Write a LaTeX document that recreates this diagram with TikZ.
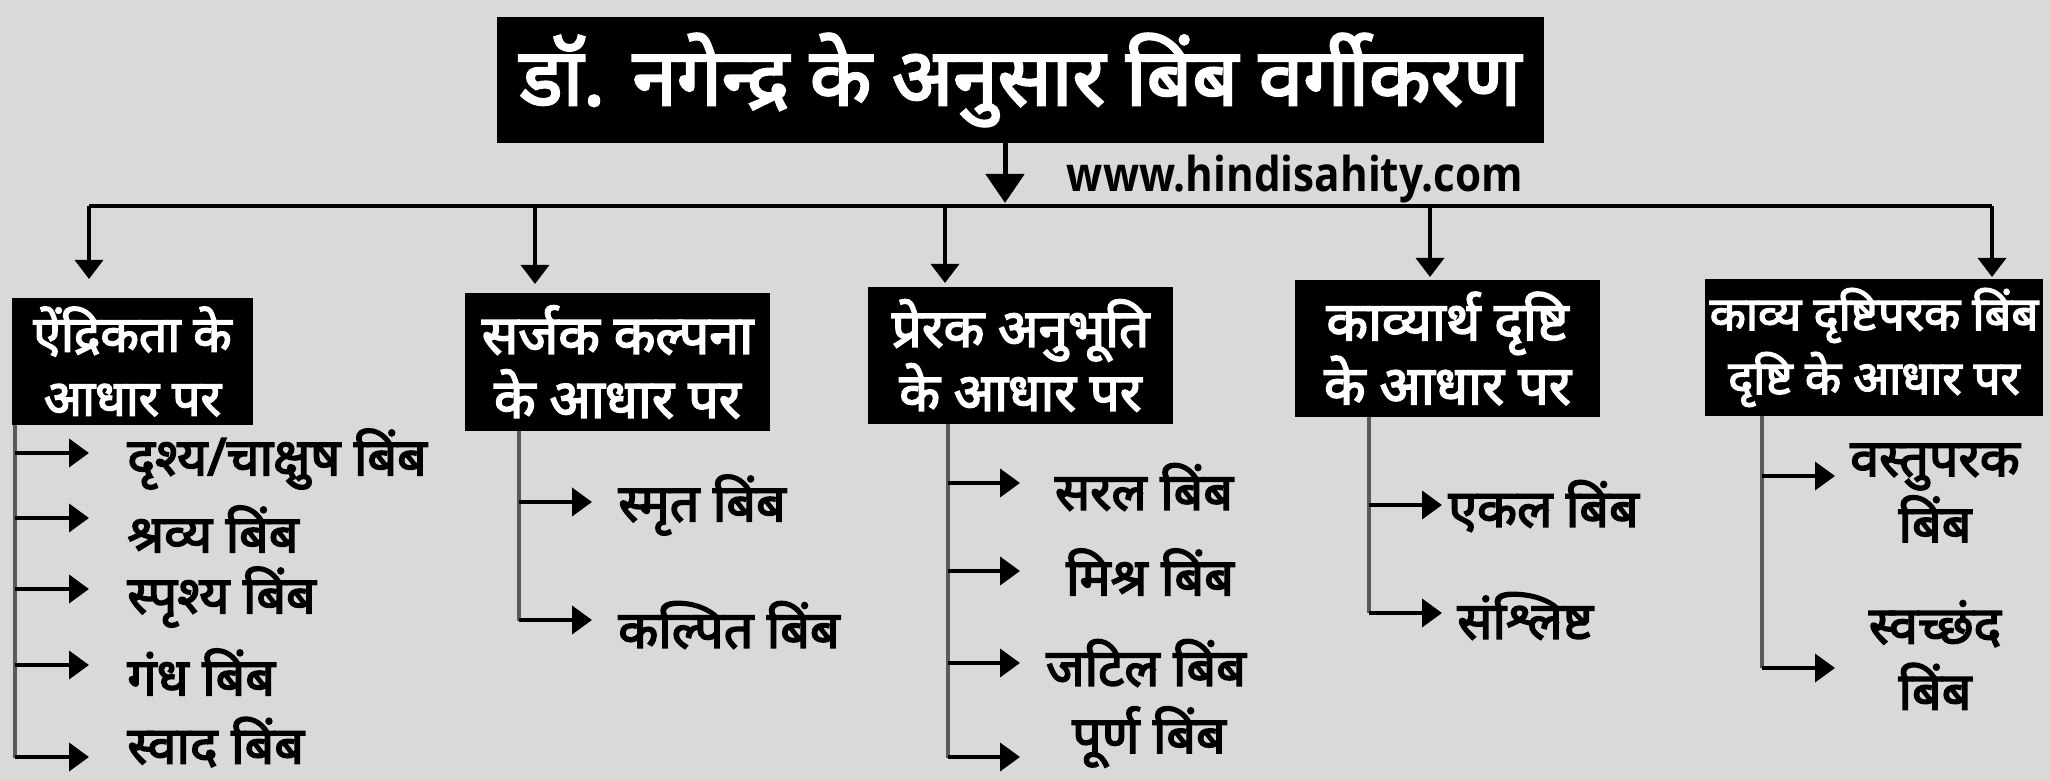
\documentclass[tikz,border=0pt]{standalone}
\usepackage{fontspec}
\usetikzlibrary{arrows.meta}
\newfontfamily\hindi[Script=Devanagari,FakeBold=3]{Noto Sans}
\newfontfamily\urlfont{Open Sans}
\definecolor{bg}{HTML}{D9D9D9}
\definecolor{vgray}{HTML}{5A5A5A}
\begin{document}
\begin{tikzpicture}[x=0.5pt,y=-0.5pt,
  titlebox/.style={fill=black,text=white,inner sep=0pt,font=\hindi\fontsize{40}{48}\selectfont},
  catbox/.style={fill=black,text=white,inner sep=0pt,align=center,font=\hindi\fontsize{#1}{32}\selectfont},
  item/.style={inner sep=0pt,text=black,align=center,font=\hindi\fontsize{26}{31}\selectfont},
  mainline/.style={line width=2pt,black},
  mainarrow/.style={line width=2.5pt,black,-{Triangle[width=19pt,length=14.5pt]}},
  downarrow/.style={line width=1.7pt,black,-{Triangle[width=14pt,length=9.5pt]}},
  stem/.style={line width=1.6pt,vgray},
  listarrow/.style={line width=2pt,black,-{Triangle[width=14pt,length=10pt]}}
]
\fill[bg] (0,0) rectangle (2050,780);
\useasboundingbox (0,0) rectangle (2050,780);

% title
\node[titlebox,minimum width=523.5pt,minimum height=63pt] (title) at (1020.5,80) {डॉ. नगेन्द्र के अनुसार बिंब वर्गीकरण};
\node[inner sep=0pt,font=\urlfont\bfseries\fontsize{24}{28}\selectfont] (url) at (1295,179) {\scalebox{0.88}[1]{www.hindisahity.com}};

\coordinate (ts) at (1005,143);
\coordinate (tj) at (1005,203);
\draw[mainarrow] (ts) -- (tj);

% horizontal bar
\coordinate (hl) at (89,206.5);
\coordinate (hr) at (1992,206.5);
\draw[mainline] (hl) -- (hr);

% category boxes
\node[catbox=25,minimum width=120.5pt,minimum height=63.5pt] (b1) at (132.5,361.5) {ऐंद्रिकता के\\आधार पर};
\node[catbox=27,minimum width=152.5pt,minimum height=69pt] (b2) at (617.5,362) {सर्जक कल्पना\\के आधार पर};
\node[catbox=26.5,minimum width=152.5pt,minimum height=68.5pt] (b3) at (1020.5,355.5) {प्रेरक अनुभूति\\के आधार पर};
\node[catbox=27,minimum width=152.5pt,minimum height=68.5pt] (b4) at (1447.5,348.5) {काव्यार्थ दृष्टि\\के आधार पर};
\node[catbox=23.5,minimum width=169pt,minimum height=68.5pt] (b5) at (1874,347.5) {काव्य दृष्टिपरक बिंब\\दृष्टि के आधार पर};

% down arrows
\coordinate (d1s) at (89,206.5);   \coordinate (d1e) at (89,279);
\coordinate (d2s) at (535,206.5);  \coordinate (d2e) at (535,284);
\coordinate (d3s) at (945,206.5);  \coordinate (d3e) at (945,283);
\coordinate (d4s) at (1430,206.5); \coordinate (d4e) at (1430,277);
\coordinate (d5s) at (1992,206.5); \coordinate (d5e) at (1992,277);
\foreach \i in {1,...,5} { \draw[downarrow] (d\i s) -- (d\i e); }

% list 1
\coordinate (s1t) at (15,425); \coordinate (s1b) at (15,758);
\draw[stem] (s1t) -- (s1b);
\node[item,anchor=west] (i11) at (127,459) {दृश्य/चाक्षुष बिंब};
\node[item,anchor=west] (i12) at (127,529) {श्रव्य बिंब};
\node[item,anchor=west] (i13) at (127,597) {स्पृश्य बिंब};
\node[item,anchor=west] (i14) at (127,672) {गंध बिंब};
\node[item,anchor=west] (i15) at (127,742) {स्वाद बिंब};
\foreach \y [count=\k] in {453,518,589,665,757} {
  \coordinate (a1\k s) at (15,\y); \coordinate (a1\k e) at (89,\y);
  \draw[listarrow] (a1\k s) -- (a1\k e);
}

% list 2
\coordinate (s2t) at (519,431); \coordinate (s2b) at (519,621);
\draw[stem] (s2t) -- (s2b);
\node[item,anchor=west] (i21) at (618,505) {स्मृत बिंब};
\node[item,anchor=west] (i22) at (618,625) {कल्पित बिंब};
\foreach \y [count=\k] in {502,620} {
  \coordinate (a2\k s) at (519,\y); \coordinate (a2\k e) at (592,\y);
  \draw[listarrow] (a2\k s) -- (a2\k e);
}

% list 3
\coordinate (s3t) at (948,424); \coordinate (s3b) at (948,758);
\draw[stem] (s3t) -- (s3b);
\node[item] (i31) at (1144,487) {सरल बिंब};
\node[item] (i32) at (1150,572) {मिश्र बिंब};
\node[item] (i33) at (1146,663) {जटिल बिंब};
\node[item] (i34) at (1149,737) {पूर्ण बिंब};
\foreach \y [count=\k] in {483,571,663,757} {
  \coordinate (a3\k s) at (948,\y); \coordinate (a3\k e) at (1020,\y);
  \draw[listarrow] (a3\k s) -- (a3\k e);
}

% list 4
\coordinate (s4t) at (1369,417); \coordinate (s4b) at (1369,613);
\draw[stem] (s4t) -- (s4b);
\node[item,anchor=west] (i41) at (1448,506) {एकल बिंब};
\node[item,anchor=west] (i42) at (1457,616) {संश्लिष्ट};
\foreach \y [count=\k] in {505,613} {
  \coordinate (a4\k s) at (1369,\y); \coordinate (a4\k e) at (1442,\y);
  \draw[listarrow] (a4\k s) -- (a4\k e);
}

% list 5
\coordinate (s5t) at (1762,416); \coordinate (s5b) at (1762,668);
\draw[stem] (s5t) -- (s5b);
\node[item] (i51) at (1935,493) {वस्तुपरक\\[2pt]बिंब};
\node[item] (i52) at (1935,655) {स्वच्छंद\\[2pt]बिंब};
\foreach \y [count=\k] in {476,668} {
  \coordinate (a5\k s) at (1762,\y); \coordinate (a5\k e) at (1835,\y);
  \draw[listarrow] (a5\k s) -- (a5\k e);
}
\end{tikzpicture}
\end{document}
